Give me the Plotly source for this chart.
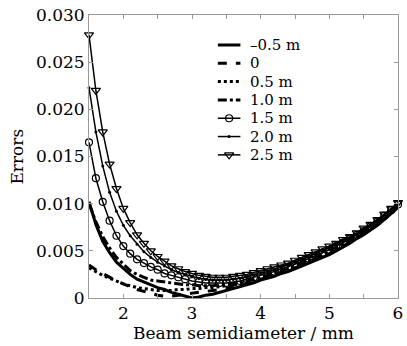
import plotly.graph_objects as go

beam = [1.5, 1.6, 1.7, 1.8, 1.9, 2.0, 2.1, 2.2, 2.3, 2.4, 2.5, 2.6, 2.7, 2.8, 2.9,
        3.0, 3.1, 3.2, 3.3, 3.4, 3.5, 3.6, 3.7, 3.8, 3.9, 4.0, 4.1, 4.2, 4.3, 4.4,
        4.5, 4.6, 4.7, 4.8, 4.9, 5.0, 5.1, 5.2, 5.3, 5.4, 5.5, 5.6, 5.7, 5.8, 5.9, 6.0]

err_m05 = [0.0102, 0.0078, 0.0060, 0.0048, 0.0038, 0.0031, 0.0025, 0.0020, 0.0017, 0.0014,
           0.0011, 0.0009, 0.0006, 0.0004, 0.0002, 0.0000, 0.0001, 0.0003, 0.0004, 0.0006,
           0.0008, 0.0010, 0.0012, 0.0014, 0.0016, 0.0019, 0.0021, 0.0023, 0.0026, 0.0028,
           0.0031, 0.0034, 0.0037, 0.0040, 0.0043, 0.0046, 0.0050, 0.0054, 0.0058, 0.0063,
           0.0067, 0.0072, 0.0077, 0.0083, 0.0089, 0.0096]
err_0 = [0.0035, 0.0030, 0.0026, 0.0022, 0.0018, 0.0015, 0.0012, 0.0009, 0.0007, 0.0005,
         0.0003, 0.0002, 0.0002, 0.0003, 0.0004, 0.0005, 0.0006, 0.0007, 0.0008, 0.0009,
         0.0010, 0.0012, 0.0013, 0.0015, 0.0017, 0.0020, 0.0022, 0.0024, 0.0027, 0.0029,
         0.0032, 0.0035, 0.0038, 0.0041, 0.0044, 0.0047, 0.0051, 0.0055, 0.0059, 0.0063,
         0.0068, 0.0073, 0.0078, 0.0084, 0.0090, 0.0096]
err_05 = [0.0032, 0.0028, 0.0024, 0.0021, 0.0018, 0.0015, 0.0013, 0.0011, 0.0010, 0.0009,
          0.0008, 0.0008, 0.0008, 0.0009, 0.0009, 0.0010, 0.0010, 0.0011, 0.0011, 0.0012,
          0.0013, 0.0014, 0.0015, 0.0017, 0.0019, 0.0021, 0.0023, 0.0025, 0.0028, 0.0030,
          0.0033, 0.0036, 0.0039, 0.0042, 0.0045, 0.0048, 0.0052, 0.0056, 0.0060, 0.0064,
          0.0069, 0.0074, 0.0079, 0.0085, 0.0091, 0.0097]
err_10 = [0.0100, 0.0081, 0.0065, 0.0053, 0.0043, 0.0036, 0.0029, 0.0025, 0.0022, 0.0019,
          0.0018, 0.0017, 0.0016, 0.0015, 0.0014, 0.0014, 0.0013, 0.0013, 0.0013, 0.0014,
          0.0014, 0.0015, 0.0017, 0.0018, 0.0020, 0.0022, 0.0024, 0.0027, 0.0029, 0.0032,
          0.0034, 0.0037, 0.0040, 0.0043, 0.0046, 0.0049, 0.0053, 0.0057, 0.0061, 0.0065,
          0.0070, 0.0075, 0.0080, 0.0086, 0.0092, 0.0098]
err_15 = [0.0165, 0.0127, 0.0102, 0.0082, 0.0066, 0.0055, 0.0047, 0.0041, 0.0037, 0.0033,
          0.0030, 0.0026, 0.0024, 0.0022, 0.0020, 0.0018, 0.0017, 0.0016, 0.0016, 0.0016,
          0.0016, 0.0017, 0.0018, 0.0020, 0.0022, 0.0024, 0.0026, 0.0028, 0.0031, 0.0033,
          0.0036, 0.0039, 0.0042, 0.0045, 0.0048, 0.0051, 0.0055, 0.0059, 0.0063, 0.0067,
          0.0071, 0.0076, 0.0081, 0.0087, 0.0093, 0.0099]
err_20 = [0.0223, 0.0176, 0.0140, 0.0112, 0.0092, 0.0077, 0.0066, 0.0057, 0.0049, 0.0043,
          0.0038, 0.0034, 0.0030, 0.0027, 0.0025, 0.0023, 0.0021, 0.0020, 0.0019, 0.0019,
          0.0019, 0.0020, 0.0021, 0.0022, 0.0024, 0.0026, 0.0028, 0.0030, 0.0033, 0.0035,
          0.0038, 0.0041, 0.0044, 0.0047, 0.0050, 0.0053, 0.0057, 0.0061, 0.0064, 0.0068,
          0.0073, 0.0078, 0.0083, 0.0088, 0.0094, 0.0100]
err_25 = [0.0279, 0.0220, 0.0176, 0.0142, 0.0116, 0.0095, 0.0080, 0.0067, 0.0058, 0.0050,
          0.0044, 0.0039, 0.0034, 0.0031, 0.0028, 0.0026, 0.0024, 0.0023, 0.0022, 0.0022,
          0.0022, 0.0023, 0.0024, 0.0025, 0.0027, 0.0029, 0.0031, 0.0033, 0.0035, 0.0037,
          0.0040, 0.0043, 0.0046, 0.0049, 0.0052, 0.0055, 0.0058, 0.0062, 0.0065, 0.0069,
          0.0074, 0.0078, 0.0083, 0.0089, 0.0095, 0.0101]

names = ["\u20130.5 m", "0", "0.5 m", "1.0 m", "1.5 m", "2.0 m", "2.5 m"]
series = [err_m05, err_0, err_05, err_10, err_15, err_20, err_25]

y_tickvals = [0, 0.005, 0.010, 0.015, 0.020, 0.025, 0.030]
y_ticktext = ["0", "0.005", "0.010", "0.015", "0.020", "0.025", "0.030"]
x_tickvals = [1.5, 2, 2.5, 3, 3.5, 4, 4.5, 5, 5.5, 6]
x_ticktext = ["", "2", "", "3", "", "4", "", "5", "", "6"]
x_title = "Beam semidiameter / mm"
y_title = "Errors"

lines = [
    dict(color="black", width=3, dash="solid"),
    dict(color="black", width=3, dash="dash"),
    dict(color="black", width=3, dash="dot"),
    dict(color="black", width=3, dash="dashdot"),
    dict(color="black", width=1.5),
    dict(color="black", width=1.5),
    dict(color="black", width=1.5),
]
markers = [
    None, None, None, None,
    dict(symbol="circle-open", size=7, color="black", line=dict(width=1.2)),
    dict(symbol="circle", size=3, color="black"),
    dict(symbol="triangle-down-open", size=8, color="black", line=dict(width=1.2)),
]

font_family = "DejaVu Serif"

fig = go.Figure()
for nm, ys, ln, mk in zip(names, series, lines, markers):
    fig.add_trace(go.Scatter(x=beam, y=ys, name=nm, cliponaxis=False,
                             mode="lines" if mk is None else "lines+markers",
                             line=ln, marker=mk, showlegend=False))

# compact hand-made legend on an overlay axis (0..1 over the plot area)
leg_top, leg_step = 0.894, 0.0647
leg_x0, leg_x1, leg_tx = 0.417, 0.490, 0.515
annotations = []
for i, (nm, ln, mk) in enumerate(zip(names, lines, markers)):
    yy = leg_top - i * leg_step
    fig.add_trace(go.Scatter(x=[leg_x0, leg_x1], y=[yy, yy], xaxis="x2", yaxis="y2",
                             mode="lines", line=ln, showlegend=False, hoverinfo="skip"))
    if mk is not None:
        fig.add_trace(go.Scatter(x=[(leg_x0 + leg_x1) / 2], y=[yy], xaxis="x2", yaxis="y2",
                                 mode="markers", marker=mk, showlegend=False, hoverinfo="skip"))
    annotations.append(dict(x=leg_tx, y=yy, xref="paper", yref="paper", text=nm,
                            showarrow=False, xanchor="left", yanchor="middle",
                            font=dict(family=font_family, size=15, color="black")))

annotations.append(dict(x=-0.236, y=0.5, xref="paper", yref="paper", text=y_title,
                        textangle=-90, showarrow=False, xanchor="center", yanchor="middle",
                        font=dict(family=font_family, size=17, color="black")))

axis_common = dict(showline=True, mirror="ticks", linecolor="#999", linewidth=1,
                   ticks="inside", tickcolor="#999", ticklen=4, showgrid=False,
                   zeroline=False, ticklabeloverflow="allow",
                   tickfont=dict(family=font_family, size=17, color="black"))

fig.update_layout(
    width=407, height=346,
    margin=dict(l=89, r=4, t=15, b=48),
    paper_bgcolor="white", plot_bgcolor="white",
    font=dict(family=font_family, size=17, color="black"),
    showlegend=False,
    annotations=annotations,
    xaxis=dict(range=[1.5, 6], tickvals=x_tickvals, ticktext=x_ticktext,
               title=dict(text=x_title, standoff=2,
                          font=dict(family=font_family, size=17)),
               **axis_common),
    yaxis=dict(range=[0, 0.030], tickvals=y_tickvals, ticktext=y_ticktext,
               **axis_common),
    xaxis2=dict(overlaying="x", range=[0, 1], visible=False),
    yaxis2=dict(overlaying="y", range=[0, 1], visible=False),
)

fig.write_html("out.html", config={"displayModeBar": False},
               post_script="document.body.style.margin='0';document.body.style.padding='0';")
